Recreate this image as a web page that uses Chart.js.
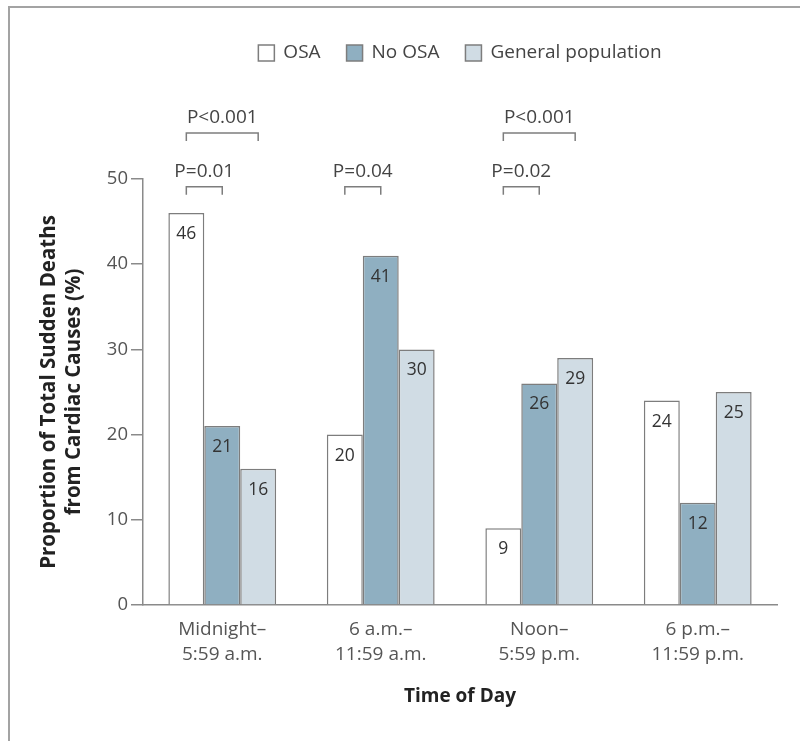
<!DOCTYPE html>
<html><head><meta charset="utf-8">
<script src="https://cdn.jsdelivr.net/npm/chart.js@4.4.0/dist/chart.umd.min.js"></script>
<style>
html,body{margin:0;padding:0;background:#fff;}
#wrap{position:relative;width:800px;height:741px;overflow:hidden;}
#frame{position:absolute;left:8px;top:6px;right:0;bottom:0;border-top:2px solid #a3a3a3;border-left:2px solid #a3a3a3;pointer-events:none;}
canvas{position:absolute;left:0;top:0;}
</style></head><body>
<div id="wrap"><canvas id="c" width="800" height="741"></canvas><div id="frame"></div></div>
<script>
// ---- data ----
const categories = [['Midnight–','5:59 a.m.'], ['6 a.m.–','11:59 a.m.'], ['Noon–','5:59 p.m.'], ['6 p.m.–','11:59 p.m.']];
const seriesNames = ['OSA', 'No OSA', 'General population'];
const osaValues = [46, 20, 9, 24];
const noOsaValues = [21, 41, 26, 12];
const generalValues = [16, 30, 29, 25];
const yTickValues = [0, 10, 20, 30, 40, 50];
// significance brackets: category, from series, to series, label, level
const bracketCategory = [0, 0, 1, 2, 2];
const bracketFrom = [0, 0, 0, 0, 0];
const bracketTo = [1, 2, 1, 1, 2];
const bracketLabels = ['P=0.01', 'P<0.001', 'P=0.04', 'P=0.02', 'P<0.001'];
const bracketLevel = [0, 1, 0, 0, 1];

const FONT = '"Open Sans", "Noto Sans", sans-serif';
const EDGE = '#7d7d7d';
const fills = ['#ffffff', '#8fafc1', '#d0dce4'];

const valueLabels = {
  id: 'valueLabels',
  afterDatasetsDraw(chart) {
    const ctx = chart.ctx;
    ctx.save();
    ctx.font = '17.5px ' + FONT;
    ctx.fillStyle = '#333';
    ctx.textAlign = 'center';
    ctx.textBaseline = 'middle';
    chart.data.datasets.forEach((ds, i) => {
      chart.getDatasetMeta(i).data.forEach((el, j) => {
        ctx.fillText(String(ds.data[j]), el.x, el.y + 21);
      });
    });
    ctx.restore();
  }
};

const brackets = {
  id: 'brackets',
  afterDraw(chart, args, opts) {
    const ctx = chart.ctx;
    const ys = chart.scales.y;
    ctx.save();
    ctx.strokeStyle = EDGE;
    ctx.lineWidth = 1.5;
    ctx.fillStyle = '#444';
    ctx.font = '19px ' + FONT;
    ctx.textAlign = 'center';
    ctx.textBaseline = 'middle';
    bracketLabels.forEach((lab, k) => {
      const c = bracketCategory[k];
      const x1 = chart.getDatasetMeta(bracketFrom[k]).data[c].x;
      const x2 = chart.getDatasetMeta(bracketTo[k]).data[c].x;
      const y = ys.getPixelForValue(opts.levels[bracketLevel[k]]);
      ctx.beginPath();
      ctx.moveTo(x1, y + opts.leg);
      ctx.lineTo(x1, y);
      ctx.lineTo(x2, y);
      ctx.lineTo(x2, y + opts.leg);
      ctx.stroke();
      ctx.fillText(lab, (x1 + x2) / 2, y - opts.textGap);
    });
    ctx.restore();
  }
};

const topLegend = {
  id: 'topLegend',
  afterDraw(chart, args, opts) {
    const ctx = chart.ctx;
    const ds = chart.data.datasets;
    ctx.save();
    ctx.font = '19px ' + FONT;
    const box = 16, gap = 9, between = 26;
    const widths = ds.map(d => box + gap + ctx.measureText(d.label).width);
    const total = widths.reduce((a, b) => a + b, 0) + between * (ds.length - 1);
    const ca = chart.chartArea;
    let x = (ca.left + ca.right) / 2 - total / 2;
    const yc = opts.y;
    ds.forEach((d, i) => {
      ctx.fillStyle = d.backgroundColor;
      ctx.fillRect(x, yc - box / 2, box, box);
      ctx.strokeStyle = EDGE;
      ctx.lineWidth = 1.5;
      ctx.strokeRect(x, yc - box / 2, box, box);
      ctx.fillStyle = '#444';
      ctx.textAlign = 'left';
      ctx.textBaseline = 'middle';
      ctx.fillText(d.label, x + box + gap, yc);
      x += widths[i] + between;
    });
    ctx.restore();
  }
};

new Chart(document.getElementById('c'), {
  type: 'bar',
  data: {
    labels: categories,
    datasets: [
      { label: seriesNames[0], data: osaValues, backgroundColor: fills[0] },
      { label: seriesNames[1], data: noOsaValues, backgroundColor: fills[1] },
      { label: seriesNames[2], data: generalValues, backgroundColor: fills[2] }
    ]
  },
  options: {
    responsive: false,
    animation: false,
    devicePixelRatio: 1,
    layout: { padding: { left: 0, right: 23, top: 179, bottom: 30 } },
    datasets: { bar: { borderColor: EDGE, borderWidth: 1.5, categoryPercentage: 0.68, barPercentage: 1 } },
    plugins: {
      legend: { display: false },
      tooltip: { enabled: false },
      brackets: { levels: [49.1, 55.4], leg: 8, textGap: 15 },
      topLegend: { y: 53 }
    },
    scales: {
      x: {
        grid: { display: false, drawTicks: false },
        border: { display: true, color: '#8a8a8a', width: 1.5 },
        ticks: { color: '#555', padding: 12, font: { family: FONT, size: 19, lineHeight: 25 / 19 } },
        title: { display: true, text: 'Time of Day', color: '#222', font: { family: FONT, size: 19, weight: 'bold' }, padding: { top: 0, bottom: 3 } },
        afterFit(s) { s.height = 106; }
      },
      y: {
        min: 0, max: 50,
        afterBuildTicks(s) { s.ticks = yTickValues.map(v => ({ value: v })); },
        grid: { drawOnChartArea: false, drawTicks: true, tickLength: 12, color: '#8a8a8a', lineWidth: 1.5 },
        border: { display: true, color: '#8a8a8a', width: 1.5 },
        ticks: { color: '#555', padding: 3, font: { family: FONT, size: 18.5 } },
        title: { display: true, text: ['Proportion of Total Sudden Deaths', 'from Cardiac Causes (%)'], color: '#222', font: { family: FONT, size: 20.5, weight: 'bold', lineHeight: 25 / 20.5 }, padding: { top: 37, bottom: 0 } },
        afterFit(s) { s.width = 143; }
      }
    }
  },
  plugins: [valueLabels, brackets, topLegend]
});
</script>
</body></html>
